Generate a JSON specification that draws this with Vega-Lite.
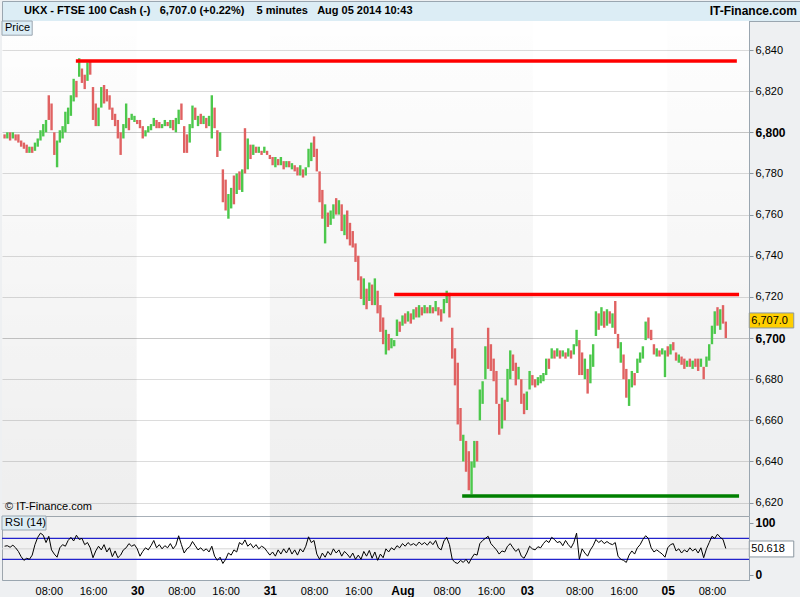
{
"$schema":"https://vega.github.io/schema/vega-lite/v6.json",
"background":"#eef0f2",
"padding":0,
"spacing":0,
"bounds":"flush",
"config":{"font":"Liberation Sans","view":{"stroke":null}},
"datasets":{
"bars":[
{"t":0,"l":6797,"h":6799,"u":0,"r":55},{"t":0.5,"l":6797,"h":6800,"u":1,"r":56},{"t":1,"l":6796,"h":6800,"u":0,"r":53},{"t":1.5,"l":6797,"h":6800,"u":1,"r":57},{"t":2,"l":6796,"h":6799,"u":0,"r":52},{"t":2.5,"l":6795,"h":6799,"u":0,"r":45},{"t":3,"l":6793,"h":6796,"u":0,"r":35},{"t":3.5,"l":6792,"h":6795,"u":0,"r":28},{"t":4,"l":6790,"h":6794,"u":0,"r":32},{"t":4.5,"l":6790,"h":6793,"u":1,"r":30},
{"t":5,"l":6790,"h":6793,"u":0,"r":38},{"t":5.5,"l":6791,"h":6795,"u":1,"r":58},{"t":6,"l":6793,"h":6797,"u":1,"r":72},{"t":6.5,"l":6796,"h":6801,"u":1,"r":80},{"t":7,"l":6798,"h":6804,"u":1,"r":76},{"t":7.5,"l":6800,"h":6806,"u":1,"r":62},{"t":8,"l":6806,"h":6818,"u":0,"r":74},{"t":8.5,"l":6801,"h":6814,"u":0,"r":48},{"t":9,"l":6789,"h":6800,"u":0,"r":40},{"t":9.5,"l":6783,"h":6796,"u":1,"r":34},
{"t":10,"l":6795,"h":6801,"u":1,"r":52},{"t":10.5,"l":6797,"h":6803,"u":1,"r":58},{"t":11,"l":6800,"h":6810,"u":1,"r":55},{"t":11.5,"l":6804,"h":6812,"u":1,"r":66},{"t":12,"l":6808,"h":6818,"u":1,"r":72},{"t":12.5,"l":6815,"h":6826,"u":1,"r":65},{"t":13,"l":6817,"h":6825,"u":0,"r":76},{"t":13.5,"l":6827,"h":6836,"u":1,"r":68},{"t":14,"l":6824,"h":6831,"u":0,"r":70},{"t":14.5,"l":6821,"h":6828,"u":0,"r":58},
{"t":15,"l":6825,"h":6834,"u":1,"r":62},{"t":15.5,"l":6828,"h":6835,"u":0,"r":52},{"t":16,"l":6806,"h":6822,"u":0,"r":33},{"t":16.5,"l":6803,"h":6814,"u":0,"r":46},{"t":17,"l":6803,"h":6812,"u":1,"r":55},{"t":17.5,"l":6812,"h":6822,"u":1,"r":48},{"t":18,"l":6814,"h":6823,"u":0,"r":58},{"t":18.5,"l":6815,"h":6821,"u":0,"r":44},{"t":19,"l":6811,"h":6818,"u":0,"r":52},{"t":19.5,"l":6806,"h":6812,"u":0,"r":35},
{"t":20,"l":6803,"h":6809,"u":0,"r":46},{"t":20.5,"l":6797,"h":6806,"u":0,"r":33},{"t":21,"l":6789,"h":6800,"u":0,"r":38},{"t":21.5,"l":6797,"h":6804,"u":1,"r":48},{"t":22,"l":6802,"h":6814,"u":1,"r":52},{"t":22.5,"l":6801,"h":6807,"u":0,"r":60},{"t":23,"l":6806,"h":6809,"u":1,"r":55},{"t":23.5,"l":6805,"h":6808,"u":1,"r":58},{"t":24,"l":6804,"h":6806,"u":0,"r":50},{"t":24.5,"l":6802,"h":6806,"u":0,"r":36},
{"t":25,"l":6797,"h":6803,"u":0,"r":45},{"t":25.5,"l":6798,"h":6801,"u":1,"r":52},{"t":26,"l":6800,"h":6803,"u":1,"r":48},{"t":26.5,"l":6801,"h":6804,"u":1,"r":56},{"t":27,"l":6803,"h":6807,"u":1,"r":66},{"t":27.5,"l":6802,"h":6806,"u":0,"r":52},{"t":28,"l":6802,"h":6805,"u":0,"r":58},{"t":28.5,"l":6802,"h":6804,"u":1,"r":50},{"t":29,"l":6803,"h":6806,"u":1,"r":56},{"t":29.5,"l":6803,"h":6805,"u":0,"r":52},
{"t":30,"l":6802,"h":6806,"u":1,"r":60},{"t":30.5,"l":6801,"h":6806,"u":0,"r":50},{"t":31,"l":6800,"h":6807,"u":1,"r":57},{"t":31.5,"l":6804,"h":6811,"u":1,"r":75},{"t":32,"l":6806,"h":6814,"u":0,"r":58},{"t":32.5,"l":6790,"h":6803,"u":0,"r":42},{"t":33,"l":6790,"h":6799,"u":0,"r":50},{"t":33.5,"l":6795,"h":6804,"u":1,"r":54},{"t":34,"l":6802,"h":6813,"u":1,"r":64},{"t":34.5,"l":6806,"h":6812,"u":0,"r":56},
{"t":35,"l":6803,"h":6808,"u":1,"r":48},{"t":35.5,"l":6804,"h":6809,"u":0,"r":52},{"t":36,"l":6804,"h":6808,"u":1,"r":46},{"t":36.5,"l":6802,"h":6807,"u":0,"r":50},{"t":37,"l":6803,"h":6808,"u":1,"r":44},{"t":37.5,"l":6797,"h":6818,"u":1,"r":55},{"t":38,"l":6802,"h":6812,"u":0,"r":36},{"t":38.5,"l":6788,"h":6801,"u":0,"r":28},{"t":39,"l":6791,"h":6800,"u":1,"r":34},{"t":39.5,"l":6766,"h":6782,"u":0,"r":22},
{"t":40,"l":6762,"h":6777,"u":0,"r":30},{"t":40.5,"l":6758,"h":6770,"u":1,"r":42},{"t":41,"l":6763,"h":6773,"u":1,"r":38},{"t":41.5,"l":6765,"h":6779,"u":0,"r":48},{"t":42,"l":6770,"h":6780,"u":1,"r":44},{"t":42.5,"l":6772,"h":6781,"u":0,"r":62},{"t":43,"l":6771,"h":6782,"u":1,"r":58},{"t":43.5,"l":6780,"h":6802,"u":0,"r":67},{"t":44,"l":6782,"h":6797,"u":1,"r":55},{"t":44.5,"l":6787,"h":6794,"u":0,"r":60},
{"t":45,"l":6789,"h":6794,"u":1,"r":52},{"t":45.5,"l":6790,"h":6793,"u":0,"r":58},{"t":46,"l":6790,"h":6793,"u":1,"r":50},{"t":46.5,"l":6789,"h":6791,"u":0,"r":55},{"t":47,"l":6790,"h":6793,"u":1,"r":52},{"t":47.5,"l":6789,"h":6791,"u":0,"r":45},{"t":48,"l":6787,"h":6789,"u":0,"r":38},{"t":48.5,"l":6784,"h":6788,"u":0,"r":44},{"t":49,"l":6783,"h":6788,"u":1,"r":36},{"t":49.5,"l":6784,"h":6787,"u":0,"r":48},
{"t":50,"l":6784,"h":6788,"u":1,"r":40},{"t":50.5,"l":6782,"h":6786,"u":0,"r":50},{"t":51,"l":6783,"h":6786,"u":1,"r":42},{"t":51.5,"l":6783,"h":6786,"u":0,"r":52},{"t":52,"l":6782,"h":6785,"u":1,"r":40},{"t":52.5,"l":6781,"h":6784,"u":0,"r":48},{"t":53,"l":6779,"h":6783,"u":0,"r":38},{"t":53.5,"l":6779,"h":6784,"u":1,"r":50},{"t":54,"l":6778,"h":6782,"u":0,"r":44},{"t":54.5,"l":6779,"h":6783,"u":1,"r":55},
{"t":55,"l":6783,"h":6792,"u":1,"r":73},{"t":55.5,"l":6786,"h":6795,"u":1,"r":62},{"t":56,"l":6788,"h":6798,"u":0,"r":66},{"t":56.5,"l":6781,"h":6792,"u":0,"r":40},{"t":57,"l":6766,"h":6781,"u":0,"r":30},{"t":57.5,"l":6758,"h":6772,"u":0,"r":42},{"t":58,"l":6746,"h":6765,"u":1,"r":34},{"t":58.5,"l":6754,"h":6761,"u":0,"r":45},{"t":59,"l":6755,"h":6762,"u":1,"r":38},{"t":59.5,"l":6758,"h":6765,"u":1,"r":50},
{"t":60,"l":6760,"h":6768,"u":0,"r":42},{"t":60.5,"l":6760,"h":6767,"u":1,"r":48},{"t":61,"l":6752,"h":6765,"u":0,"r":36},{"t":61.5,"l":6750,"h":6760,"u":1,"r":45},{"t":62,"l":6748,"h":6762,"u":0,"r":40},{"t":62.5,"l":6745,"h":6756,"u":0,"r":33},{"t":63,"l":6744,"h":6752,"u":0,"r":42},{"t":63.5,"l":6737,"h":6746,"u":0,"r":30},{"t":64,"l":6728,"h":6740,"u":0,"r":38},{"t":64.5,"l":6719,"h":6730,"u":0,"r":30},
{"t":65,"l":6716,"h":6729,"u":1,"r":45},{"t":65.5,"l":6714,"h":6724,"u":0,"r":36},{"t":66,"l":6718,"h":6727,"u":1,"r":47},{"t":66.5,"l":6716,"h":6726,"u":0,"r":32},{"t":67,"l":6716,"h":6729,"u":1,"r":44},{"t":67.5,"l":6712,"h":6723,"u":0,"r":28},{"t":68,"l":6703,"h":6716,"u":0,"r":40},{"t":68.5,"l":6697,"h":6710,"u":0,"r":33},{"t":69,"l":6692,"h":6704,"u":1,"r":50},{"t":69.5,"l":6694,"h":6702,"u":0,"r":44},
{"t":70,"l":6695,"h":6700,"u":1,"r":52},{"t":70.5,"l":6696,"h":6699,"u":1,"r":48},{"t":71,"l":6701,"h":6709,"u":1,"r":56},{"t":71.5,"l":6703,"h":6708,"u":0,"r":52},{"t":72,"l":6706,"h":6711,"u":1,"r":60},{"t":72.5,"l":6707,"h":6712,"u":0,"r":55},{"t":73,"l":6708,"h":6713,"u":1,"r":62},{"t":73.5,"l":6707,"h":6712,"u":0,"r":57},{"t":74,"l":6709,"h":6714,"u":1,"r":60},{"t":74.5,"l":6710,"h":6715,"u":0,"r":56},
{"t":75,"l":6710,"h":6716,"u":1,"r":63},{"t":75.5,"l":6711,"h":6715,"u":0,"r":58},{"t":76,"l":6712,"h":6716,"u":1,"r":62},{"t":76.5,"l":6712,"h":6715,"u":0,"r":57},{"t":77,"l":6712,"h":6716,"u":1,"r":64},{"t":77.5,"l":6712,"h":6715,"u":0,"r":58},{"t":78,"l":6713,"h":6718,"u":1,"r":66},{"t":78.5,"l":6711,"h":6715,"u":0,"r":52},{"t":79,"l":6708,"h":6714,"u":0,"r":48},{"t":79.5,"l":6712,"h":6719,"u":1,"r":65},
{"t":80,"l":6717,"h":6723,"u":1,"r":72},{"t":80.5,"l":6710,"h":6722,"u":0,"r":58},{"t":81,"l":6690,"h":6705,"u":0,"r":30},{"t":81.5,"l":6677,"h":6695,"u":0,"r":24},{"t":82,"l":6658,"h":6688,"u":0,"r":22},{"t":82.5,"l":6650,"h":6666,"u":0,"r":28},{"t":83,"l":6640,"h":6653,"u":1,"r":24},{"t":83.5,"l":6635,"h":6650,"u":0,"r":30},{"t":84,"l":6626,"h":6645,"u":0,"r":22},{"t":84.5,"l":6624,"h":6640,"u":1,"r":32},
{"t":85,"l":6637,"h":6650,"u":1,"r":40},{"t":85.5,"l":6640,"h":6650,"u":0,"r":38},{"t":86,"l":6660,"h":6675,"u":1,"r":60},{"t":86.5,"l":6668,"h":6679,"u":1,"r":66},{"t":87,"l":6680,"h":6696,"u":1,"r":70},{"t":87.5,"l":6685,"h":6705,"u":0,"r":74},{"t":88,"l":6684,"h":6697,"u":0,"r":60},{"t":88.5,"l":6679,"h":6690,"u":0,"r":54},{"t":89,"l":6668,"h":6684,"u":0,"r":48},{"t":89.5,"l":6653,"h":6668,"u":0,"r":40},
{"t":90,"l":6656,"h":6671,"u":1,"r":46},{"t":90.5,"l":6660,"h":6670,"u":0,"r":44},{"t":91,"l":6669,"h":6685,"u":1,"r":55},{"t":91.5,"l":6680,"h":6694,"u":1,"r":60},{"t":92,"l":6684,"h":6692,"u":0,"r":52},{"t":92.5,"l":6677,"h":6688,"u":0,"r":45},{"t":93,"l":6680,"h":6686,"u":1,"r":50},{"t":93.5,"l":6668,"h":6680,"u":0,"r":36},{"t":94,"l":6663,"h":6673,"u":0,"r":32},{"t":94.5,"l":6665,"h":6674,"u":1,"r":42},
{"t":95,"l":6675,"h":6684,"u":1,"r":55},{"t":95.5,"l":6677,"h":6682,"u":0,"r":50},{"t":96,"l":6676,"h":6680,"u":0,"r":48},{"t":96.5,"l":6677,"h":6681,"u":1,"r":54},{"t":97,"l":6678,"h":6682,"u":1,"r":52},{"t":97.5,"l":6679,"h":6683,"u":1,"r":60},{"t":98,"l":6682,"h":6690,"u":1,"r":66},{"t":98.5,"l":6685,"h":6690,"u":0,"r":62},{"t":99,"l":6690,"h":6695,"u":1,"r":72},{"t":99.5,"l":6690,"h":6694,"u":0,"r":68},
{"t":100,"l":6691,"h":6695,"u":1,"r":62},{"t":100.5,"l":6690,"h":6694,"u":0,"r":64},{"t":101,"l":6691,"h":6694,"u":1,"r":56},{"t":101.5,"l":6690,"h":6693,"u":0,"r":66},{"t":102,"l":6691,"h":6695,"u":1,"r":58},{"t":102.5,"l":6690,"h":6694,"u":0,"r":52},{"t":103,"l":6692,"h":6697,"u":1,"r":62},{"t":103.5,"l":6696,"h":6704,"u":1,"r":80},{"t":104,"l":6682,"h":6699,"u":0,"r":30},{"t":104.5,"l":6682,"h":6693,"u":0,"r":50},
{"t":105,"l":6680,"h":6690,"u":1,"r":42},{"t":105.5,"l":6673,"h":6685,"u":0,"r":36},{"t":106,"l":6678,"h":6692,"u":1,"r":48},{"t":106.5,"l":6686,"h":6697,"u":1,"r":56},{"t":107,"l":6701,"h":6713,"u":1,"r":68},{"t":107.5,"l":6704,"h":6712,"u":0,"r":62},{"t":108,"l":6706,"h":6715,"u":1,"r":66},{"t":108.5,"l":6705,"h":6713,"u":0,"r":60},{"t":109,"l":6706,"h":6714,"u":1,"r":64},{"t":109.5,"l":6707,"h":6713,"u":0,"r":60},
{"t":110,"l":6705,"h":6712,"u":1,"r":58},{"t":110.5,"l":6702,"h":6718,"u":0,"r":62},{"t":111,"l":6695,"h":6702,"u":0,"r":36},{"t":111.5,"l":6688,"h":6698,"u":1,"r":30},{"t":112,"l":6680,"h":6692,"u":0,"r":28},{"t":112.5,"l":6671,"h":6685,"u":0,"r":24},{"t":113,"l":6667,"h":6680,"u":1,"r":38},{"t":113.5,"l":6676,"h":6684,"u":1,"r":46},{"t":114,"l":6677,"h":6683,"u":0,"r":40},{"t":114.5,"l":6683,"h":6690,"u":1,"r":52},
{"t":115,"l":6688,"h":6693,"u":1,"r":58},{"t":115.5,"l":6690,"h":6696,"u":1,"r":68},{"t":116,"l":6699,"h":6708,"u":1,"r":75},{"t":116.5,"l":6700,"h":6710,"u":0,"r":70},{"t":117,"l":6699,"h":6704,"u":0,"r":52},{"t":117.5,"l":6692,"h":6697,"u":0,"r":44},{"t":118,"l":6691,"h":6695,"u":1,"r":48},{"t":118.5,"l":6691,"h":6694,"u":0,"r":44},{"t":119,"l":6692,"h":6695,"u":1,"r":40},{"t":119.5,"l":6681,"h":6694,"u":1,"r":34},
{"t":120,"l":6691,"h":6696,"u":0,"r":52},{"t":120.5,"l":6692,"h":6697,"u":1,"r":58},{"t":121,"l":6694,"h":6698,"u":0,"r":60},{"t":121.5,"l":6689,"h":6693,"u":0,"r":46},{"t":122,"l":6688,"h":6692,"u":1,"r":50},{"t":122.5,"l":6687,"h":6691,"u":0,"r":42},{"t":123,"l":6685,"h":6690,"u":0,"r":48},{"t":123.5,"l":6686,"h":6689,"u":1,"r":44},{"t":124,"l":6686,"h":6690,"u":0,"r":52},{"t":124.5,"l":6685,"h":6689,"u":1,"r":46},
{"t":125,"l":6686,"h":6690,"u":0,"r":50},{"t":125.5,"l":6684,"h":6690,"u":0,"r":42},{"t":126,"l":6686,"h":6690,"u":1,"r":52},{"t":126.5,"l":6680,"h":6686,"u":0,"r":33},{"t":127,"l":6686,"h":6691,"u":1,"r":50},{"t":127.5,"l":6689,"h":6697,"u":1,"r":62},{"t":128,"l":6697,"h":6706,"u":1,"r":74},{"t":128.5,"l":6702,"h":6713,"u":1,"r":70},{"t":129,"l":6706,"h":6715,"u":0,"r":78},{"t":129.5,"l":6704,"h":6714,"u":1,"r":72},
{"t":130,"l":6707,"h":6716,"u":0,"r":68},{"t":130.5,"l":6700,"h":6708,"u":0,"r":50.6}
],
"lines":[
{"a":12.9,"b":132.5,"p":6834.6,"k":"res"},
{"a":70.5,"b":132.9,"p":6721.2,"k":"res"},
{"a":82.8,"b":132.9,"p":6623.2,"k":"sup"}
],
"days":[
{"s":-0.465,"e":23.9},{"s":48,"e":95.6},{"s":119.9,"e":134.7}
],
"one":[{"n":1}]
},
"vconcat":[
{
"width":800,"height":20,
"view":{"fill":"#dcedf5","stroke":"#9aa6b0"},
"layer":[
{"data":{"values":[{"side":"L","txt":"UKX - FTSE 100 Cash (-)\u00a0\u00a0\u00a06,707.0 (+0.22%)\u00a0\u00a0\u00a0\u00a05 minutes\u00a0\u00a0\u00a0Aug 05 2014 10:43"}]},
"mark":{"type":"text","align":"left","baseline":"middle","dx":22,"fontWeight":"bold","fontSize":11,"color":"#000"},
"encoding":{"x":{"field":"side","type":"nominal","scale":{"type":"point","padding":0,"domain":["L","R"]},"axis":null},"text":{"field":"txt"}}},
{"data":{"values":[{"side":"R","txt":"IT-Finance.com"}]},
"mark":{"type":"text","align":"right","baseline":"middle","dx":-5,"fontWeight":"bold","fontSize":12,"color":"#000"},
"encoding":{"x":{"field":"side","type":"nominal","scale":{"type":"point","padding":0,"domain":["L","R"]},"axis":null},"text":{"field":"txt"}}}
]
},
{
"width":747,"height":495,
"view":{"fill":"#ffffff","stroke":null},
"resolve":{"scale":{"color":"independent"}},
"layer":[
{"data":{"name":"days"},
"mark":{"type":"rect","color":{"gradient":"linear","x1":0,"y1":0,"x2":0,"y2":1,"stops":[{"offset":0,"color":"rgba(0,0,0,0.005)"},{"offset":1,"color":"rgba(0,0,0,0.065)"}]}},
"encoding":{"x":{"field":"s","type":"quantitative","scale":{"domain":[-0.465,134.7],"nice":false,"zero":false},"axis":null},"x2":{"field":"e"}}},
{"data":{"name":"bars"},
"mark":{"type":"rule","strokeWidth":2.4},
"encoding":{
"x":{"field":"t","type":"quantitative","scale":{"domain":[-0.465,134.7],"nice":false,"zero":false},"axis":null},
"y":{"field":"l","type":"quantitative","scale":{"domain":[6613.5,6854.1],"nice":false,"zero":false},
"axis":{"orient":"right","title":null,"values":[6620,6630,6640,6650,6660,6670,6680,6690,6700,6710,6720,6730,6740,6750,6760,6770,6780,6790,6800,6810,6820,6830,6840,6850],
"labelExpr":"datum.value % 20 == 0 ? format(datum.value, ',') : ''",
"labelFontWeight":{"condition":{"test":"datum.value % 100 == 0","value":"bold"},"value":"normal"},
"labelFontSize":{"condition":{"test":"datum.value % 100 == 0","value":12},"value":11},
"labelColor":"#000000","labelPadding":2,"labelOverlap":false,"labelFlush":false,
"grid":true,
"gridColor":{"condition":{"test":"datum.value % 100 == 0","value":"#c8c8c8"},"value":"#dcdcdc"},
"gridOpacity":{"condition":{"test":"datum.value % 20 == 0","value":1},"value":0},
"tickColor":"#8a96a0","tickSize":4,"domainColor":"#9aa6b0"}},
"y2":{"field":"h"},
"color":{"field":"u","type":"nominal","scale":{"domain":[0,1],"range":["#e06262","#4cc84c"]},"legend":null}}},
{"data":{"name":"lines"},
"mark":{"type":"rule","strokeWidth":3.5},
"encoding":{
"x":{"field":"a","type":"quantitative","scale":{"domain":[-0.465,134.7],"nice":false,"zero":false},"axis":null},
"x2":{"field":"b"},
"y":{"field":"p","type":"quantitative","scale":{"domain":[6613.5,6854.1],"nice":false,"zero":false}},
"stroke":{"field":"k","type":"nominal","scale":{"domain":["res","sup"],"range":["#ff0000","#008000"]},"legend":null}}},
{"data":{"name":"one"},
"mark":{"type":"rect","fill":"#dcedf5","stroke":"#9aa6b0","strokeWidth":1},
"encoding":{"x":{"datum":-0.465,"type":"quantitative"},"x2":{"datum":5.0},"y":{"datum":6854.1,"type":"quantitative"},"y2":{"datum":6847.2}}},
{"data":{"name":"one"},
"mark":{"type":"text","text":"Price","align":"left","baseline":"middle","dx":3,"fontSize":11,"color":"#000"},
"encoding":{"x":{"datum":-0.465,"type":"quantitative"},"y":{"datum":6850.6,"type":"quantitative"}}},
{"data":{"name":"one"},
"mark":{"type":"text","text":"© IT-Finance.com","align":"left","baseline":"middle","dx":3,"fontSize":11,"color":"#000"},
"encoding":{"x":{"datum":-0.465,"type":"quantitative"},"y":{"datum":6618.0,"type":"quantitative"}}},
{"data":{"name":"one"},
"mark":{"type":"rect","fill":"#ffcf00","stroke":"#8a96a0","strokeWidth":1,"clip":false},
"encoding":{"x":{"datum":134.75,"type":"quantitative"},"x2":{"datum":142.8},"y":{"datum":6712.2,"type":"quantitative"},"y2":{"datum":6704.9}}},
{"data":{"name":"one"},
"mark":{"type":"text","text":"6,707.0","align":"left","baseline":"middle","dx":2,"fontSize":11,"color":"#000","clip":false},
"encoding":{"x":{"datum":134.75,"type":"quantitative"},"y":{"datum":6708.5,"type":"quantitative"}}}
]
},
{
"width":747,"height":64,
"view":{"fill":"#ffffff","stroke":"#a8b0b8"},
"layer":[
{"data":{"name":"days"},
"mark":{"type":"rect","color":"#000000","opacity":0.055},
"encoding":{"x":{"field":"s","type":"quantitative","scale":{"domain":[-0.465,134.7],"nice":false,"zero":false}},"x2":{"field":"e"}}},
{"data":{"values":[{"v":50}]},
"mark":{"type":"rule","color":"#d4d4d4","strokeWidth":1},
"encoding":{"y":{"field":"v","type":"quantitative","scale":{"domain":[-9.6,112.8],"nice":false,"zero":false}}}},
{"data":{"values":[{"v":70},{"v":30}]},
"mark":{"type":"rule","color":"#2222cc","strokeWidth":1.2},
"encoding":{"y":{"field":"v","type":"quantitative","scale":{"domain":[-9.6,112.8],"nice":false,"zero":false}}}},
{"data":{"name":"bars"},
"mark":{"type":"line","color":"#000000","strokeWidth":1},
"encoding":{
"x":{"field":"t","type":"quantitative","scale":{"domain":[-0.465,134.7],"nice":false,"zero":false},
"axis":{"title":null,"values":[8,16,24,32,40,48,56,64,72,80,88,94.5,104,112,120,128],
"labelExpr":"datum.value == 24 ? '30' : datum.value == 48 ? '31' : datum.value == 72 ? 'Aug' : datum.value == 94.5 ? '03' : datum.value == 120 ? '05' : datum.value % 24 == 8 ? '08:00' : '16:00'",
"labelFontWeight":{"condition":{"test":"datum.value == 24 || datum.value == 48 || datum.value == 72 || datum.value == 94.5 || datum.value == 120","value":"bold"},"value":"normal"},
"labelFontSize":{"condition":{"test":"datum.value == 24 || datum.value == 48 || datum.value == 72 || datum.value == 94.5 || datum.value == 120","value":12},"value":11},
"labelColor":"#000000","labelPadding":5,"labelOverlap":false,"labelFlush":false,"ticks":false,"grid":false,"domainColor":"#9aa6b0"}},
"y":{"field":"r","type":"quantitative","scale":{"domain":[-9.6,112.8],"nice":false,"zero":false},
"axis":{"orient":"right","title":null,"values":[0,100],"labelFontWeight":"bold","labelFontSize":12,"labelColor":"#000000","labelPadding":2,"grid":false,"tickColor":"#8a96a0","tickSize":4,"domainColor":"#9aa6b0"}}}},
{"data":{"name":"one"},
"mark":{"type":"rect","fill":"#dcedf5","stroke":"#9aa6b0","strokeWidth":1},
"encoding":{"x":{"datum":-0.465,"type":"quantitative"},"x2":{"datum":7.5},"y":{"datum":112.8,"type":"quantitative"},"y2":{"datum":86}}},
{"data":{"name":"one"},
"mark":{"type":"text","text":"RSI (14)","align":"left","baseline":"middle","dx":3,"fontSize":11,"color":"#000"},
"encoding":{"x":{"datum":-0.465,"type":"quantitative"},"y":{"datum":99.4,"type":"quantitative"}}},
{"data":{"name":"one"},
"mark":{"type":"rect","fill":"#ffffff","stroke":"#8a96a0","strokeWidth":1,"clip":false},
"encoding":{"x":{"datum":134.75,"type":"quantitative"},"x2":{"datum":142.8},"y":{"datum":65,"type":"quantitative"},"y2":{"datum":34.5}}},
{"data":{"name":"one"},
"mark":{"type":"text","text":"50.618","align":"left","baseline":"middle","dx":2,"fontSize":11,"color":"#000","clip":false},
"encoding":{"x":{"datum":134.75,"type":"quantitative"},"y":{"datum":49.7,"type":"quantitative"}}}
]
}
]
}
